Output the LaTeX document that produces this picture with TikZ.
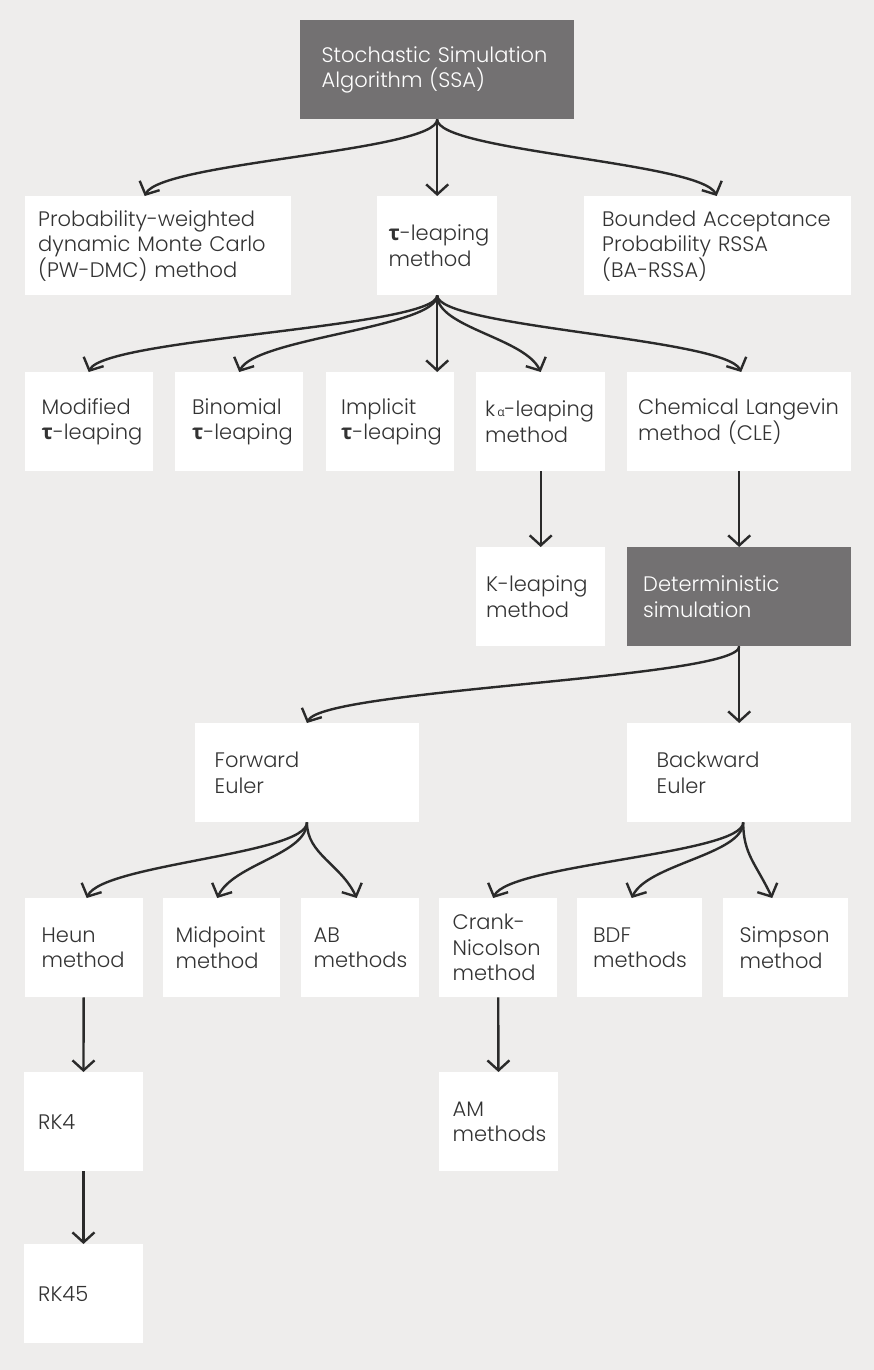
\documentclass[tikz,border=0pt]{standalone}
\usepackage{fontspec}
\setmainfont{Poppins}[UprightFont=*-Light]
\newfontfamily\grk{Open Sans}
\usetikzlibrary{arrows.meta}
\definecolor{bgc}{HTML}{EEEDEC}
\definecolor{darkc}{HTML}{737172}
\definecolor{linkc}{HTML}{2A2A2A}
\definecolor{txtc}{HTML}{333333}
\newcommand{\tausym}{{\grk\bfseries τ}}
\newcommand{\alphasub}{{\grk\fontsize{12}{12}\selectfont\,α}}
\tikzset{
  box/.style={
    fill=white,
    anchor=north west,
    minimum height=99pt,
    inner ysep=0pt,
    align=left,
    text=txtc,
    font={\fontsize{21}{25.5}\selectfont\exhyphenpenalty=10000\hyphenpenalty=10000}
  },
  dark box/.style={
    box,
    fill=darkc,
    text=white
  },
  link/.style={
    draw=linkc,
    line width=2.4pt,
    -{Straight Barb[length=10pt,width=22pt]}
  },
  branch left/.style={
    to path={.. controls +(0pt,-32pt) and +(16pt,34pt) .. (\tikztotarget)}
  },
  branch right/.style={
    to path={.. controls +(0pt,-32pt) and +(-16pt,34pt) .. (\tikztotarget)}
  }
}

\begin{document}
\begin{tikzpicture}[x=1pt, y=-1pt, every edge/.style={link}]
   \fill[bgc] (0,0) rectangle (874,1370);
   \useasboundingbox (0,0) rectangle (874,1370);

   % top
   \node[dark box, text width=231pt, inner xsep=21.5pt] (ssa) at (300,20) {Stochastic~Simulation\\Algorithm~(SSA)};

   % second row
   \node[box, text width=239pt, inner xsep=13.5pt] (pw) at (24.5,196) {Probability-weighted\\dynamic~Monte~Carlo\\(PW-DMC)~method};
   \node[box, text width=97pt, inner xsep=11.5pt] (tau) at (377,196) {\tausym-leaping\\method};
   \node[box, text width=231pt, inner xsep=18pt] (ba) at (584,196) {Bounded~Acceptance\\Probability~RSSA\\(BA-RSSA)};

   % leaping variants
   \node[box, text width=94pt, inner xsep=17pt] (mod) at (24.5,372) {Modified\\\tausym-leaping};
   \node[box, text width=94pt, inner xsep=17pt] (bin) at (175,372) {Binomial\\\tausym-leaping};
   \node[box, text width=97pt, inner xsep=15.5pt] (imp) at (325.5,372) {Implicit\\\tausym-leaping};
   \node[box, text width=111pt, inner xsep=9pt] (kal) at (476,372) {k\alphasub-leaping\\method};
   \node[box, text width=202pt, inner xsep=11pt] (cle) at (627,372) {Chemical~Langevin\\method~(CLE)};

   \node[box, text width=109pt, inner xsep=10pt] (kle) at (476,547) {K-leaping\\method};
   \node[dark box, text width=192pt, inner xsep=16pt] (det) at (627,547) {Deterministic\\simulation};

   % euler
   \node[box, text width=184.5pt, inner xsep=20pt] (fwd) at (194.5,723) {Forward\\Euler};
   \node[box, text width=165pt, inner xsep=29.5pt] (bwd) at (627,723) {Backward\\Euler};

   % solvers
   \node[box, text width=84pt, inner xsep=17pt] (heun) at (24.5,898) {Heun\\method};
   \node[box, text width=92pt, inner xsep=12.5pt] (mid) at (163,898) {Midpoint\\method};
   \node[box, text width=93pt, inner xsep=12.5pt] (ab) at (301,898) {AB\\methods};
   \node[box, text width=91pt, inner xsep=13.5pt] (cn) at (439,898) {Crank-\\Nicolson\\method};
   \node[box, text width=93pt, inner xsep=16pt] (bdf) at (577,898) {BDF\\methods};
   \node[box, text width=92pt, inner xsep=16.5pt] (sim) at (723,898) {Simpson\\method};

   \node[box, text width=90.5pt, inner xsep=14pt] (rk4) at (24,1072) {RK4};
   \node[box, text width=91.5pt, inner xsep=13.5pt] (am) at (439,1072) {AM\\methods};
   \node[box, text width=90.5pt, inner xsep=14pt] (rk45) at (24,1244) {RK45};

   \path (ssa.south) edge[branch left]  ([xshift=-13pt]pw.north)
                     edge               (tau.north)
                     edge[branch right] ([xshift=-1pt]ba.north)
         (tau.south) edge[branch left]  (mod.north)
                     edge[branch left]  (bin.north)
                     edge               (imp.north -| tau.south)
                     edge[branch right] (kal.north)
                     edge[branch right] ([xshift=2pt]cle.north)
         (kal.south) edge               (kle.north)
         (cle.south) edge               (det.north)
         (det.south) edge[branch left]  (fwd.north)
                     edge               (bwd.north)
         (fwd.south) edge[branch left]  ([xshift=3pt]heun.north)
                     edge[branch left]  ([xshift=-4.5pt]mid.north)
                     edge[branch right] ([xshift=-3.5pt]ab.north)
         ([xshift=4pt]bwd.south) edge[branch left] ([xshift=-5pt]cn.north)
                     edge[branch left]  ([xshift=-8pt]bdf.north)
                     edge[branch right] ([xshift=-13.5pt]sim.north)
         (heun.south) edge              (rk4.north)
         (rk4.south) edge               (rk45.north)
         (cn.south)  edge               (am.north);
\end{tikzpicture}
\end{document}
